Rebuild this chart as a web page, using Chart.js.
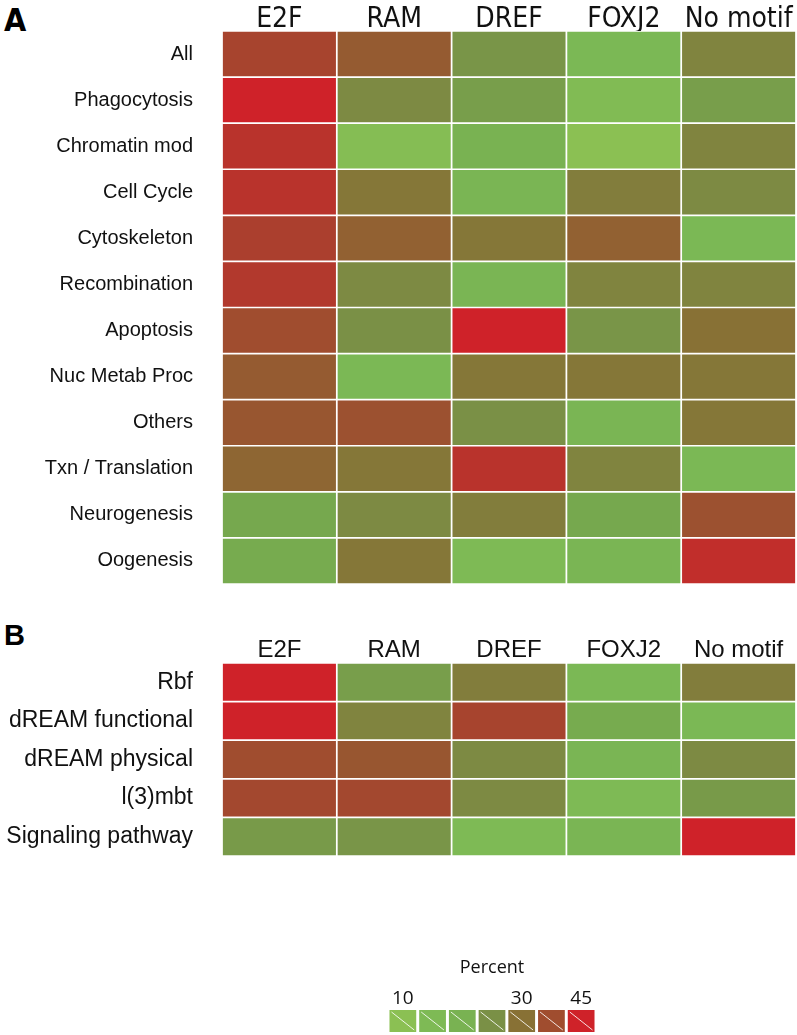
<!DOCTYPE html>
<html>
<head>
<meta charset="utf-8">
<script src="https://cdn.jsdelivr.net/npm/chart.js@4.4.0/dist/chart.umd.min.js"></script>
<style>
  body { margin: 0; background: #fff; width: 797px; height: 1035px; position: relative; overflow: hidden; }
  .letter { position: absolute; left: 4px; font-weight: bold; line-height: 1; color: #000; }
  #letterA { top: 4px; font-family: 'Liberation Sans Narrow', 'DejaVu Sans Condensed', sans-serif; font-size: 32px; }
  #letterB { top: 621px; font-family: 'Liberation Sans', Arial, sans-serif; font-size: 29px; }
  canvas { position: absolute; }
  #chartA { left: 0; top: 0; }
  #chartB { left: 0; top: 612px; }
  #chartKey { left: 370px; top: 935px; }
</style>
</head>
<body>
<div class="letter" id="letterA">A</div>
<div class="letter" id="letterB">B</div>
<canvas id="chartA" width="797" height="600"></canvas>
<canvas id="chartB" width="797" height="252"></canvas>
<canvas id="chartKey" width="250" height="100"></canvas>
<script>
// Motif columns shared by both panels
const motifs = ['E2F', 'RAM', 'DREF', 'FOXJ2', 'No motif'];

// Panel A: GO categories, percent of genes per motif
const categoriesA = ['All', 'Phagocytosis', 'Chromatin mod', 'Cell Cycle', 'Cytoskeleton',
    'Recombination', 'Apoptosis', 'Nuc Metab Proc', 'Others', 'Txn / Translation',
    'Neurogenesis', 'Oogenesis'];
const percentA = [
    [39, 34, 24, 15, 27],
    [45, 26, 22, 13, 22],
    [42, 12, 17, 10, 27],
    [42, 29, 16, 28, 26],
    [40, 33, 29, 33, 15],
    [41, 26, 16, 27, 27],
    [37, 25, 45, 24, 30],
    [34, 15, 29, 29, 29],
    [35, 36, 25, 16, 29],
    [32, 29, 42, 27, 15],
    [20, 26, 28, 20, 36],
    [19, 29, 14, 16, 43]
];

// Panel B: gene sets
const categoriesB = ['Rbf', 'dREAM functional', 'dREAM physical', 'l(3)mbt', 'Signaling pathway'];
const percentB = [
    [45, 22, 28, 15, 28],
    [45, 27, 39, 19, 15],
    [37, 35, 26, 16, 26],
    [38, 38, 26, 14, 23],
    [23, 24, 14, 16, 45]
];

// Colour key swatches and the labels printed above them
const keyValues = [10, 14, 17, 25, 30, 37, 45];
const keyLabels = ['10', '30', '45'];

// green -> olive -> brown -> red ramp
const colorStops = [
    [10, '#8bc053'], [15, '#7bb855'], [20, '#76a84e'], [25, '#7a9046'],
    [30, '#887135'], [35, '#985630'], [40, '#ab3f2e'], [45, '#cf2229']
];

function hexToRgb(h) {
    return [parseInt(h.slice(1, 3), 16), parseInt(h.slice(3, 5), 16), parseInt(h.slice(5, 7), 16)];
}

function heatColor(v) {
    if (v <= colorStops[0][0]) return colorStops[0][1];
    for (let i = 1; i < colorStops.length; i++) {
        if (v <= colorStops[i][0]) {
            const [v0, c0] = colorStops[i - 1];
            const [v1, c1] = colorStops[i];
            const t = (v - v0) / (v1 - v0);
            const a = hexToRgb(c0), b = hexToRgb(c1);
            const rgb = a.map((x, k) => Math.round(x + (b[k] - x) * t));
            return `rgb(${rgb[0]},${rgb[1]},${rgb[2]})`;
        }
    }
    return colorStops[colorStops.length - 1][1];
}

// kill the label overhang Chart.js reserves, we size the axes ourselves
function noOverhang(s) {
    s.paddingTop = 0;
    s.paddingBottom = 0;
    s.paddingLeft = 0;
    s.paddingRight = 0;
}

// One heatmap = horizontal floating bars, one dataset per motif column
function makeHeatmap(id, rows, values, rowFont, headerFont, headerHeight, headerPad, padBottom) {
    const datasets = motifs.map((m, c) => ({
        label: m,
        data: rows.map(() => [c, c + 1]),
        backgroundColor: rows.map((_, r) => heatColor(values[r][c])),
        borderColor: '#ffffff',
        borderWidth: 1.2,
        borderSkipped: false,
        barPercentage: 1,
        categoryPercentage: 1,
        grouped: false
    }));

    return new Chart(document.getElementById(id), {
        type: 'bar',
        data: { labels: rows, datasets },
        options: {
            indexAxis: 'y',
            responsive: false,
            animation: false,
            layout: { padding: { left: 0, right: 1, top: 0, bottom: padBottom } },
            plugins: { legend: { display: false }, tooltip: { enabled: false } },
            scales: {
                x: { type: 'linear', min: 0, max: motifs.length, display: false },
                x2: {
                    type: 'category',
                    labels: motifs,
                    position: 'top',
                    offset: true,
                    grid: { display: false, drawTicks: false },
                    border: { display: false },
                    ticks: { font: headerFont, color: '#111', padding: headerPad, maxRotation: 0 },
                    afterFit: s => { s.height = headerHeight; noOverhang(s); }
                },
                y: {
                    type: 'category',
                    offset: true,
                    grid: { display: false, drawTicks: false },
                    border: { display: false },
                    ticks: { font: rowFont, color: '#111', padding: 29 },
                    afterFit: s => { s.width = 222; noOverhang(s); }
                }
            }
        }
    });
}

makeHeatmap('chartA', categoriesA, percentA,
    { family: "'Liberation Sans', Arial, sans-serif", size: 20 },
    { family: "'Liberation Sans Narrow', 'DejaVu Sans Condensed', sans-serif", size: 28, lineHeight: 1 },
    31, -3, 16);

makeHeatmap('chartB', categoriesB, percentB,
    { family: "'Liberation Sans', Arial, sans-serif", size: 23 },
    { family: "'Liberation Sans', Arial, sans-serif", size: 24, lineHeight: 1 },
    51, 1, 8);

// white diagonal across each key swatch
const diagonalPlugin = {
    id: 'diagonal',
    afterDatasetsDraw(chart) {
        const ctx = chart.ctx;
        ctx.save();
        ctx.strokeStyle = 'rgba(255,255,255,0.85)';
        ctx.lineWidth = 1;
        chart.getDatasetMeta(0).data.forEach(bar => {
            const left = bar.x - bar.width / 2;
            const right = bar.x + bar.width / 2;
            ctx.beginPath();
            ctx.moveTo(left + 2, bar.y + 2);
            ctx.lineTo(right - 2, bar.base - 2);
            ctx.stroke();
        });
        ctx.restore();
    }
};

new Chart(document.getElementById('chartKey'), {
    type: 'bar',
    data: {
        labels: keyValues.map(String),
        datasets: [{
            data: keyValues.map(() => [0, 1]),
            backgroundColor: keyValues.map(heatColor),
            barPercentage: 0.9,
            categoryPercentage: 1
        }]
    },
    options: {
        responsive: false,
        animation: false,
        layout: { padding: { left: 18, right: 24, top: 0, bottom: 3 } },
        plugins: { legend: { display: false }, tooltip: { enabled: false } },
        scales: {
            x: {
                position: 'top',
                grid: { display: false, drawTicks: false },
                border: { display: false },
                ticks: {
                    font: { family: "'Open Sans', sans-serif", size: 19 },
                    color: '#111',
                    padding: 0,
                    maxRotation: 0,
                    autoSkip: false,
                    callback: (v, i) => keyLabels.includes(String(keyValues[i])) ? String(keyValues[i]) : ''
                },
                title: {
                    display: true,
                    text: 'Percent',
                    font: { family: "'Open Sans', sans-serif", size: 18 },
                    color: '#111',
                    padding: { top: 22, bottom: 4 }
                },
                afterFit: s => { s.height = 75; noOverhang(s); }
            },
            y: { min: 0, max: 1, display: false }
        }
    },
    plugins: [diagonalPlugin]
});
</script>
</body>
</html>
